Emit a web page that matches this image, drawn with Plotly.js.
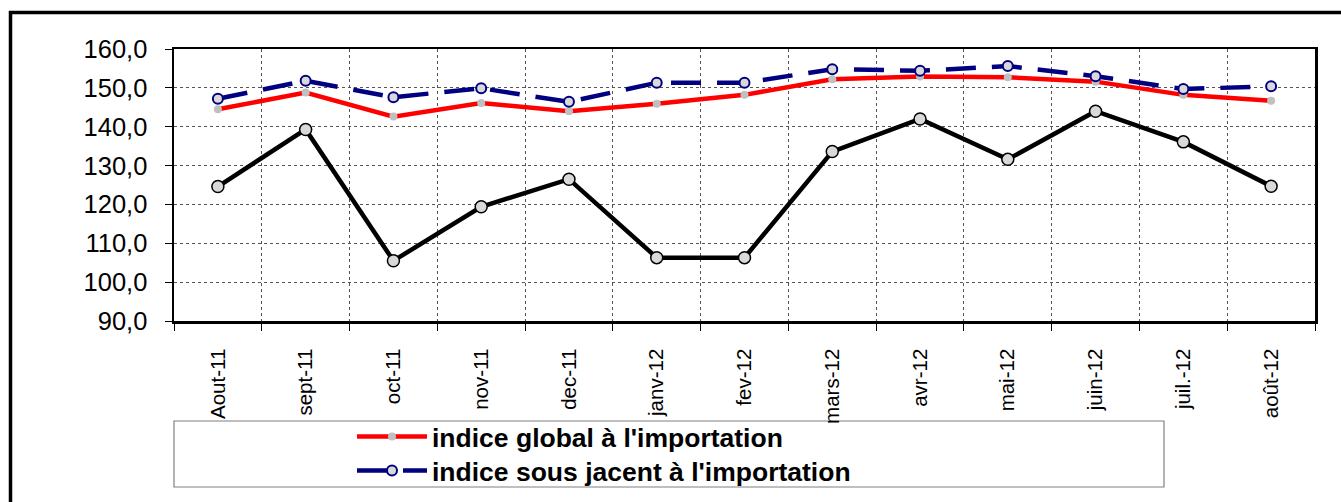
<!DOCTYPE html>
<html>
<head>
<meta charset="utf-8">
<script src="https://cdn.plot.ly/plotly-3.0.1.min.js"></script>
<style>
html,body{margin:0;padding:0;background:#fff;}
#chart{width:1341px;height:502px;}
</style>
</head>
<body>
<div id="chart"></div>
<script>
const months = ["Aout-11","sept-11","oct-11","nov-11","dec-11","janv-12","fev-12","mars-12","avr-12","mai-12","juin-12","juil.-12","août-12"];
const globalIndex = [144.5,148.8,142.6,146.1,144.0,145.9,148.2,152.2,152.9,152.7,151.6,148.2,146.7];
const underlyingIndex = [147.2,151.8,147.6,149.9,146.4,151.3,151.3,154.8,154.4,155.6,153.0,149.7,150.4];
const thirdIndex = [124.6,139.3,105.5,119.4,126.5,106.3,106.3,133.6,142.0,131.6,144.0,136.1,124.7];
const globalName = "indice global à l'importation";
const underlyingName = "indice sous jacent à l'importation";

const traces = [
  {
    x: months, y: thirdIndex, type: "scatter", mode: "lines+markers",
    name: "indice", showlegend: false,
    line: {color: "#000000", width: 4.5},
    marker: {size: 12, color: "#d9d9d9", line: {color: "#000000", width: 1.5}}
  },
  {
    x: months, y: globalIndex, type: "scatter", mode: "lines+markers",
    name: globalName, legend: "legend",
    line: {color: "#ff0000", width: 4.5},
    marker: {size: 8, color: "#c0c0c0"}
  },
  {
    x: months, y: underlyingIndex, type: "scatter", mode: "lines+markers",
    name: underlyingName, legend: "legend2",
    line: {color: "#000080", width: 4.5, dash: "30px,16px"},
    marker: {size: 10, color: "#d9d9d9", line: {color: "#000080", width: 2}}
  }
];

const W = 1341, H = 502;
const L = 174, R = 1315, T = 49, B = 321;
const px2x = p => (p - L) / (R - L);
const py2y = p => (B - p) / (B - T);

const legendFont = {size: 26.5, family: "Liberation Sans, Arial, sans-serif", weight: "bold", color: "#000"};
const legendBase = {
  xanchor: "left", yanchor: "middle",
  bgcolor: "rgba(0,0,0,0)", borderwidth: 0,
  itemwidth: 70, font: legendFont
};

const layout = {
  width: W, height: H,
  margin: {l: L, r: W - R, t: T, b: H - B, pad: 0, autoexpand: false},
  paper_bgcolor: "#ffffff", plot_bgcolor: "#ffffff",
  separators: ", ",
  font: {family: "Liberation Sans, Arial, sans-serif", color: "#000000"},
  showlegend: true,
  xaxis: {
    type: "category",
    range: [-0.5, 12.5],
    tickson: "boundaries",
    ticks: "outside", ticklen: 7, tickcolor: "#000", tickwidth: 1,
    tickangle: -90,
    tickfont: {size: 20.5, family: "Liberation Sans, Arial, sans-serif"},
    ticklabelstandoff: 17,
    showgrid: true, gridcolor: "#555555", gridwidth: 1, griddash: "dot",
    showline: true, linecolor: "#000", linewidth: 2.5, mirror: true,
    zeroline: false, fixedrange: true, automargin: false
  },
  yaxis: {
    range: [90, 160], dtick: 10, tick0: 90,
    tickformat: ".1f",
    ticks: "outside", ticklen: 7, tickcolor: "#000", tickwidth: 1,
    tickfont: {size: 25.5, family: "Liberation Sans, Arial, sans-serif"},
    ticklabelstandoff: 12,
    showgrid: true, gridcolor: "#555555", gridwidth: 1, griddash: "dot",
    showline: true, linecolor: "#000", linewidth: 2.5, mirror: true,
    zeroline: false, fixedrange: true, automargin: false
  },
  legend: Object.assign({}, legendBase, {x: px2x(352), y: py2y(436.7)}),
  legend2: Object.assign({}, legendBase, {x: px2x(352), y: py2y(470.7)}),
  shapes: [
    {type: "rect", xref: "paper", yref: "paper",
     x0: px2x(174), x1: px2x(1164), y0: py2y(487), y1: py2y(421),
     line: {color: "#808080", width: 1.2}, fillcolor: "rgba(0,0,0,0)", layer: "below"},
    {type: "rect", xref: "paper", yref: "paper",
     x0: px2x(10.5), x1: px2x(1400), y0: py2y(700), y1: py2y(12.5),
     line: {color: "#000000", width: 3.5}, fillcolor: "rgba(0,0,0,0)", layer: "above"}
  ]
};

Plotly.newPlot("chart", traces, layout, {displayModeBar: false, staticPlot: true});
</script>
</body>
</html>
